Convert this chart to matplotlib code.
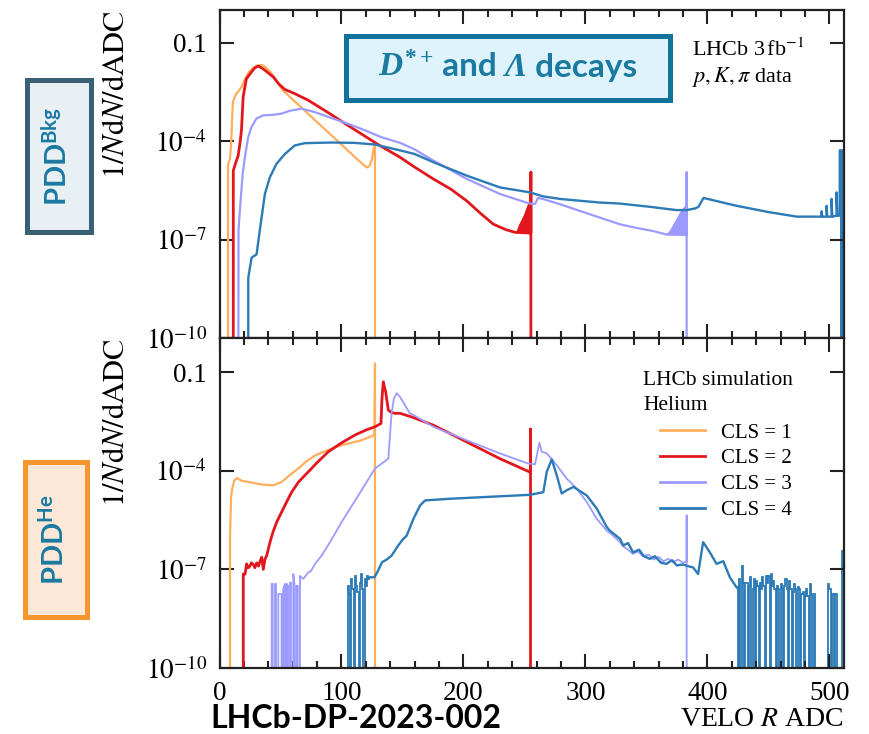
import numpy as np
import matplotlib
matplotlib.use("Agg")
import matplotlib.pyplot as plt
from matplotlib.patches import Rectangle
from matplotlib.ticker import FixedLocator, MultipleLocator, NullLocator
from matplotlib.offsetbox import TextArea, HPacker, AnchoredOffsetbox

# values: x = VELO R ADC, y = log10(1/N dN/dADC)
# EMPTY marks an empty bin (falls below the axis floor)
EMPTY = -12

# ---------- top panel: PDD Bkg (LHCb data) ----------
bkg1_x = [7, 7, 8.5, 9.5, 10.5, 11, 13, 15, 18, 21, 24, 27, 31, 35, 38, 42, 45, 49, 52, 60,
          70, 80, 90, 100, 110, 118, 121, 123, 125, 126.5, 127.5, 127.5]
bkg1_y = [EMPTY, -4.7, -4.55, -4.1, -3.2, -2.8, -2.6, -2.5, -2.35, -2.1, -1.9, -1.78, -1.69, -1.68,
          -1.75, -1.9, -2.05, -2.3, -2.45, -2.73, -3.07, -3.42, -3.76, -4.1, -4.45, -4.72, -4.80,
          -4.75, -4.55, -4.2, -4.13, EMPTY]

bkg2_x = [11.3, 11.3, 13, 15.3, 17, 18, 19.4, 22, 26, 29, 32, 36, 40, 44, 49, 53.5, 61.7, 72.7,
          90, 110, 130, 148, 160, 175.3, 190, 202.7, 214, 224.5, 235, 242.5, 255.3, 255.3, 255.3]
bkg2_y = [EMPTY, -4.9, -4.69, -4.44, -4.0, -3.67, -2.65, -2.1, -1.9, -1.76, -1.71, -1.8, -1.92,
          -2.04, -2.27, -2.42, -2.55, -2.75, -3.15, -3.63, -4.1, -4.49, -4.79, -5.15, -5.47,
          -5.82, -6.2, -6.53, -6.7, -6.78, -6.8, -4.95, EMPTY]
bkg2_fill_x = [243, 245, 247, 249, 251, 253, 255.3]
bkg2_fill_top = [-6.75, -6.55, -6.4, -6.25, -6.05, -5.85, -5.7]
bkg2_fill_low = -6.8

bkg3_x = [15.4, 15.6, 17.5, 19, 20.8, 23.5, 26.2, 30.3, 35.8, 43, 50.8, 58, 67.2, 78, 90, 105.5,
          120, 132.8, 148, 160, 175.3, 202.7, 230, 251.6, 257, 259, 261, 265, 279, 295, 311.8,
          328, 340, 355.6, 366, 383, 383, 383]
bkg3_y = [EMPTY, -6.7, -5.71, -5.0, -4.49, -3.88, -3.57, -3.31, -3.21, -3.2, -3.16, -3.07, -3.01,
          -3.11, -3.27, -3.47, -3.68, -3.88, -4.05, -4.25, -4.59, -5.15, -5.61, -5.87, -5.92,
          -5.9, -5.73, -5.76, -5.92, -6.12, -6.33, -6.53, -6.63, -6.74, -6.84, -6.86, -4.95, EMPTY]
bkg3_fill_x = [366, 369, 372, 375, 378, 381, 383]
bkg3_fill_top = [-6.84, -6.7, -6.5, -6.3, -6.1, -5.97, -5.97]
bkg3_fill_low = -6.86

bkg4_x = [23.6, 23.6, 26.3, 30.4, 32, 34.5, 37.2, 41.3, 46.7, 53.6, 61.7, 69.9, 91.8, 110, 127.3,
          148, 160, 175.3, 202.7, 230, 254.5, 265, 279, 311.8, 328, 352.8, 374.5, 383, 390, 392.7,
          396.8, 424, 451.5, 473.4, 492.5, 493.6, 493.6, 494.2, 497.7, 497.7, 498.3, 501.8, 501.8,
          502.4, 505.9, 505.9, 506.5, 508.5, 508.5, 512]
bkg4_y = [EMPTY, -8.16, -7.55, -7.45, -7.0, -6.33, -5.61, -5.1, -4.69, -4.39, -4.13, -4.06, -4.04,
          -4.05, -4.10, -4.28, -4.39, -4.64, -5.05, -5.41, -5.56, -5.68, -5.76, -5.87, -5.90, -6.0,
          -6.10, -6.10, -6.05, -6.0, -5.73, -5.97, -6.17, -6.30, -6.30, -6.30, -6.14, -6.30, -6.30,
          -5.97, -6.30, -6.30, -5.76, -6.30, -6.27, -5.56, -6.27, -6.27, -4.28, -4.28]
bkg4_fill_x = [508.5, 512]
bkg4_fill_top = [-4.28, -4.28]
bkg4_fill_low = EMPTY

# ---------- bottom panel: PDD He (simulation) ----------
he1_x = [8.6, 8.6, 9.5, 10.5, 12, 14.1, 18, 23.6, 35, 44.1, 51, 57, 64.6, 71, 78.3, 90, 100.1,
         116.5, 127, 127.5, 127.5]
he1_y = [EMPTY, -6.0, -4.8, -4.54, -4.3, -4.22, -4.3, -4.34, -4.42, -4.44, -4.34, -4.15, -3.93,
         -3.72, -3.53, -3.35, -3.22, -3.07, -2.91, -0.73, EMPTY]

he2_x = [19.5, 19.5, 21, 22.2, 23.5, 24.9, 26.2, 27.7, 29, 30.5, 32, 33.3, 34.6, 35.9, 37.2, 38.7,
         41.4, 44, 46.9, 52.3, 59.1, 65, 72.8, 80, 89.2, 100, 111.1, 120, 127.5, 132.4, 133.2,
         134.3, 135.2, 136.2, 138.4, 141, 143.9, 148, 157.5, 175.3, 202.6, 229.9, 254, 255, 255, 255]
he2_y = [EMPTY, -7.14, -7.14, -6.83, -6.95, -6.9, -6.8, -6.85, -6.95, -6.8, -6.9, -6.75, -6.63,
         -7.0, -6.7, -6.58, -6.17, -5.85, -5.56, -5.15, -4.65, -4.33, -4.03, -3.75, -3.42, -3.15,
         -2.91, -2.76, -2.66, -2.56, -1.8, -1.29, -1.45, -1.59, -2.15, -2.23, -2.25, -2.25, -2.36,
         -2.61, -3.12, -3.63, -4.03, -4.03, -2.73, EMPTY]

he3_x = [42.8, 42.8, 43.6, 43.6, 45.5, 45.5, 46.3, 46.3, 48.2, 48.2, 50.9, 50.9, 52.2, 52.2, 53.7,
         53.7, 55.1, 55.1, 56.2, 56.2, 57.8, 57.8, 58.6, 58.6, 60.5, 60.5, 61.6, 61.6, 63.2, 63.2,
         64.2, 64.2, 66, 66, 68.7, 72.8, 75, 78.3, 83.7, 90.6, 100.1, 113.8, 127.5, 138.4, 141.1,
         143, 145.2, 148, 152, 156, 160, 175.3, 202.6, 229.9, 253.2, 258.7, 262.3, 264.2, 268.3,
         276.5, 284.7, 292.9, 301.1, 309.3, 317.5, 322, 328.4, 331, 335, 339, 343, 347, 352, 356,
         360, 364, 368, 372, 376, 380, 383, 383, 383]
he3_y = [EMPTY, -7.44, -7.44, EMPTY, EMPTY, -7.44, -7.44, EMPTY, EMPTY, -7.75, -7.75, EMPTY, EMPTY,
         -7.6, -7.44, EMPTY, EMPTY, -7.44, -7.5, EMPTY, EMPTY, -7.4, -7.4, EMPTY, EMPTY, -7.14, -7.5,
         EMPTY, EMPTY, -7.5, -7.5, EMPTY, EMPTY, -7.2, -7.29, -7.09, -7.05, -6.83, -6.58, -6.17,
         -5.56, -4.75, -3.93, -3.63, -2.25, -1.8, -1.64, -1.75, -2.0, -2.25, -2.32, -2.66, -3.07,
         -3.47, -3.78, -3.80, -3.14, -3.42, -3.47, -3.83, -4.24, -4.54, -4.95, -5.46, -5.82, -5.95,
         -6.17, -6.3, -6.4, -6.53, -6.45, -6.6, -6.55, -6.7, -6.62, -6.75, -6.68, -6.78, -6.7,
         -6.8, -6.75, -5.36, EMPTY]

he4_x = [123, 127, 129.3, 133.3, 137, 141.1, 146.6, 150, 153.5, 159, 164.5, 168.6, 189, 216.4,
         254.6, 265.5, 268.3, 272.4, 276.5, 280.6, 284.7, 290.2, 301.1, 309.3, 317.5, 320, 328.4,
         331, 335, 339, 344, 348, 352.8, 357, 362, 366.5, 371, 375, 380, 384, 388.3, 392.4, 396.5,
         402, 407.5, 413, 418.4, 424]
he4_y = [-7.24, -7.24, -7.09, -6.78, -6.7, -6.58, -6.27, -6.1, -5.97, -5.46, -5.05, -4.9, -4.85,
         -4.8, -4.73, -4.65, -4.03, -3.65, -4.14, -4.69, -4.59, -4.49, -4.75, -5.15, -5.71, -5.82,
         -6.07, -6.27, -6.2, -6.48, -6.4, -6.6, -6.68, -6.6, -6.8, -6.83, -6.72, -6.88, -6.85,
         -6.9, -6.94, -7.14, -6.17, -6.48, -6.83, -6.75, -7.24, -7.55]
# noisy low-statistics bins (one value per ADC bin)
he4_block_start = 104
he4_block = [EMPTY, -7.5, -7.75, EMPTY, -7.3, -7.6, EMPTY, -7.2, -7.5, -7.7, EMPTY, -7.4, -7.14,
             -7.6, EMPTY, -7.3, -7.5, -7.2, -7.3]
he4_tail_start = 424
he4_tail = [-7.55, EMPTY, -7.3, EMPTY, -6.9, -7.4, EMPTY, -7.4,
            -7.4, EMPTY, -7.5, -7.24, EMPTY, -7.6, -7.3, EMPTY,
            -7.34, -7.5, EMPTY, -7.4, -7.6, -7.24, -7.5, EMPTY,
            -7.2, -7.4, -7.19, EMPTY, -7.14, -7.5, -7.34, -7.6,
            EMPTY, -7.5, -7.6, EMPTY, -7.44, -7.6, EMPTY, -7.5,
            -7.29, -7.6, EMPTY, -7.34, -7.6, EMPTY, -7.7, -7.44,
            -7.6, EMPTY, -7.55, -7.6, EMPTY, -7.75, -7.7, EMPTY,
            -7.8, -7.6, -7.8, EMPTY, -7.44, -7.75, EMPTY, -7.75,
            EMPTY, EMPTY, EMPTY, EMPTY, EMPTY, EMPTY, EMPTY, EMPTY,
            EMPTY, EMPTY, EMPTY, -7.44, -7.6, EMPTY, -7.75, -7.75,
            EMPTY, -7.75, EMPTY, EMPTY, EMPTY, EMPTY, -6.43, -6.43]

legend_labels = ['CLS = 1', 'CLS = 2', 'CLS = 3', 'CLS = 4']
ytick_vals = [1e-10, 1e-7, 1e-4, 0.1]
ytick_labels = [r'$10^{-10}$', r'$10^{-7}$', r'$10^{-4}$', '0.1']

C1, C2, C3, C4 = '#ffae5c', '#e2171d', '#9b9bff', '#2c7bb6'
TEAL = '#1b7aa2'

plt.rcParams['font.family'] = ['Liberation Serif', 'DejaVu Serif']
plt.rcParams['mathtext.fontset'] = 'stix'
plt.rcParams['mathtext.rm'] = 'Liberation Serif:bold'
plt.rcParams['mathtext.it'] = 'Liberation Serif:italic:bold'
plt.rcParams['mathtext.sf'] = 'Lato:bold'

W, H = 869, 734
fig = plt.figure(figsize=(W / 100, H / 100), dpi=100)


def fx(px):
    return px / W


def fy(py):
    return 1 - py / H


def up(v):
    return 10.0 ** np.asarray(v, dtype=float)


ax_top = fig.add_axes([fx(219.5), fy(338), fx(844) - fx(219.5), fy(10) - fy(338)])
ax_bot = fig.add_axes([fx(219.5), fy(668), fx(844) - fx(219.5), fy(338) - fy(668)])

for ax, ytop in ((ax_top, 1.0), (ax_bot, 1.1)):
    ax.set_yscale('log')
    ax.set_xlim(0, 512)
    ax.set_ylim(1e-10, ytop)
    ax.yaxis.set_major_locator(FixedLocator(ytick_vals))
    ax.set_yticklabels(ytick_labels)
    ax.yaxis.set_minor_locator(NullLocator())
    ax.xaxis.set_major_locator(MultipleLocator(100))
    ax.xaxis.set_minor_locator(MultipleLocator(20))
    ax.tick_params(which='both', direction='in', top=True, right=True, width=1.5,
                   color='#222222', labelsize=19.5)
    ax.tick_params(which='major', length=10, pad=9)
    ax.tick_params(which='minor', length=5)
    for s in ax.spines.values():
        s.set_linewidth(1.6)
        s.set_color('#222222')
    ax.set_ylabel(r'$1/N\mathrm{d}N/\mathrm{dADC}$', fontsize=22, loc='top')
    ax.yaxis.set_label_coords(-0.141, 1.0)

ax_top.tick_params(labelbottom=False)

# top panel curves
ax_top.plot(bkg1_x, up(bkg1_y), color=C1, lw=1.6)
ax_top.plot(bkg2_x, up(bkg2_y), color=C2, lw=2.0)
ax_top.fill_between(bkg2_fill_x, up(bkg2_fill_low), up(bkg2_fill_top), color=C2, lw=0)
ax_top.plot(bkg3_x, up(bkg3_y), color=C3, lw=1.6)
ax_top.fill_between(bkg3_fill_x, up(bkg3_fill_low), up(bkg3_fill_top), color=C3, lw=0)
ax_top.plot(bkg4_x, up(bkg4_y), color=C4, lw=1.7)
ax_top.fill_between(bkg4_fill_x, up(bkg4_fill_low), up(bkg4_fill_top), color=C4, lw=0)

# bottom panel curves
l1, = ax_bot.plot(he1_x, up(he1_y), color=C1, lw=1.6)
l2, = ax_bot.plot(he2_x, up(he2_y), color=C2, lw=2.0)
l3, = ax_bot.plot(he3_x, up(he3_y), color=C3, lw=1.3)
l4, = ax_bot.plot(he4_x, up(he4_y), color=C4, lw=1.7)
ax_bot.stairs(up(he4_block), np.arange(he4_block_start, he4_block_start + len(he4_block) + 1),
              baseline=None, color=C4, lw=1.3)
ax_bot.stairs(up(he4_tail), np.arange(he4_tail_start, he4_tail_start + len(he4_tail) + 1),
              baseline=None, color=C4, lw=1.3)

ax_bot.set_xlabel('VELO $R$ ADC', fontsize=20, loc='right', labelpad=1)

leg = fig.legend([l1, l2, l3, l4], legend_labels, loc='upper left',
                 bbox_to_anchor=(fx(660), fy(423)), bbox_transform=fig.transFigure,
                 frameon=False, fontsize=15, handlelength=2.15, handletextpad=0.8,
                 labelspacing=0.3, borderpad=0, borderaxespad=0)
for h in leg.legend_handles:
    h.set_linewidth(2.0)

fig.text(fx(692), fy(50), r'LHCb 3$\,$fb$^{-1}$', fontsize=16, va='center')
fig.text(fx(692), fy(77), r'$p, K, \pi$ data', fontsize=16, va='center')
fig.text(fx(643), fy(381), 'LHCb simulation', fontsize=15.5, va='center')
fig.text(fx(643), fy(406), 'Helium', fontsize=15.5, va='center')


# annotation boxes
def box(x0, y0, x1, y1, face, edge):
    fig.add_artist(Rectangle((fx(x0), fy(y1)), fx(x1) - fx(x0), fy(y0) - fy(y1),
                             transform=fig.transFigure, facecolor=face, edgecolor=edge,
                             lw=3.6, zorder=5))


box(345.5, 35.5, 669.5, 99.5, '#def3fb', '#11729a')
box(26.5, 79.5, 90.5, 232.5, '#e8f0f4', '#3a6073')
box(24.5, 461.5, 86.5, 616.5, '#fde8d7', '#f7962e')

sans = dict(family='Lato', weight='bold', size=24, color=TEAL)
title_parts = [
    TextArea(r'$D^{*+}$', textprops=dict(size=24, color=TEAL, math_fontfamily='custom')),
    TextArea(' and ', textprops=sans),
    TextArea('Λ', textprops=dict(family='Liberation Serif', weight='bold', style='italic',
                                  size=24, color=TEAL)),
    TextArea(' decays', textprops=sans),
]
title = AnchoredOffsetbox(loc='center', child=HPacker(children=title_parts, align='baseline',
                                                      pad=0, sep=0),
                          bbox_to_anchor=(fx(508), fy(68)), bbox_transform=fig.transFigure,
                          frameon=False, pad=0, borderpad=0)
title.set_zorder(6)
fig.add_artist(title)

fig.text(fx(57), fy(156), r'PDD$^{\mathsf{Bkg}}$', family='Lato', weight='bold', fontsize=21,
         color=TEAL, rotation=90, ha='center', va='center', math_fontfamily='custom', zorder=6)
fig.text(fx(55), fy(540), r'PDD$^{\mathsf{He}}$', family='Lato', weight='bold', fontsize=21,
         color=TEAL, rotation=90, ha='center', va='center', math_fontfamily='custom', zorder=6)
fig.text(fx(210), fy(728), 'LHCb-DP-2023-002', family='Lato', weight='bold', fontsize=23,
         color='black', va='baseline')

fig.savefig('out.png', dpi=100)
